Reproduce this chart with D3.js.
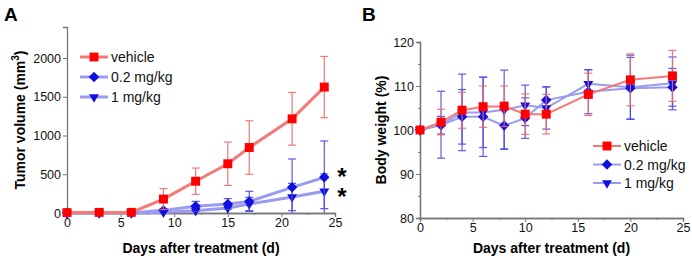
<!DOCTYPE html>
<html>
<head>
<meta charset="utf-8">
<script src="https://cdn.jsdelivr.net/npm/d3@7"></script>
<style>
  body { margin: 0; background: #fff; }
  svg { font-family: "Liberation Sans", Arial, sans-serif; }
</style>
</head>
<body>
<svg id="chart" width="692" height="262"></svg>
<script>
// panel A: tumor volume
const tumorDays = [0, 3, 6, 9, 12, 15, 17, 21, 24];
const tumorVehicle = [5, 8, 8, 180, 410, 635, 845, 1215, 1625];
const tumorVehicleErr = [5, 8, 8, 135, 170, 280, 345, 340, 395];
const tumorLow = [0, 0, 0, 34, 86, 116, 150, 331, 460];
const tumorLowErr = [0, 0, 0, 20, 64, 70, 130, 366, 469];
const tumorHigh = [0, 0, 0, 9, 30, 65, 116, 206, 280];
const tumorHighErr = [0, 0, 0, 10, 30, 65, 86, 176, 224];

// panel B: body weight
const weightDays = [0, 2, 4, 6, 8, 10, 12, 16, 20, 24];
const weightVehicle = [100, 101.8, 104.5, 105.3, 105.4, 103.6, 103.6, 108.1, 111.4, 112.3];
const weightVehicleErr = [0.3, 2.9, 4.1, 4.7, 4.6, 4.6, 4.5, 4.8, 5.9, 5.8];
const weightLow = [100, 101.1, 103.0, 103.0, 101.0, 102.7, 106.8, 108.7, 109.5, 109.7];
const weightLowErr = [0.3, 2.0, 6.2, 9.0, 5.3, 4.6, 3.0, 5.0, 7.0, 4.3];
const weightHigh = [100, 101.2, 104.0, 104.0, 104.6, 105.6, 105.0, 110.5, 109.7, 110.6];
const weightHighErr = [0.3, 7.6, 8.7, 8.0, 9.0, 4.6, 4.8, 3.2, 7.3, 6.0];

const seriesNames = ["vehicle", "0.2 mg/kg", "1 mg/kg"];
const xTicks = [0, 5, 10, 15, 20, 25];

const svg = d3.select("#chart");

const styles = [
  { line: "#f47a7a", fill: "#ff0000", err: "#f06a6a", symbol: d3.symbolSquare, size: 80, rot: 0 },
  { line: "#9a9af0", fill: "#1010e0", err: "#4a4ae8", symbol: d3.symbolDiamond2, size: 70, rot: 0 },
  { line: "#9a9af0", fill: "#1010e0", err: "#4a4ae8", symbol: d3.symbolTriangle2, size: 70, rot: 180 },
];

function drawPanel(opts) {
  const { x, y, g, series, lineWidth } = opts;

  // axes
  g.append("g")
    .attr("transform", `translate(0,${y.range()[0]})`)
    .call(d3.axisBottom(x).tickValues(xTicks).tickSize(4).tickPadding(1));
  g.append("g")
    .attr("transform", `translate(0,${y.range()[0]})`)
    .call(d3.axisBottom(x).tickValues(d3.range(2.5, 25, 5)).tickSize(2).tickFormat(""));
  g.append("g")
    .attr("transform", `translate(${x.range()[0]},0)`)
    .call(d3.axisLeft(y).tickValues(opts.yTicks).tickSize(4).tickPadding(2).tickFormat(d3.format("d")));
  if (opts.yMinor) {
    g.append("g")
      .attr("transform", `translate(${x.range()[0]},0)`)
      .call(d3.axisLeft(y).tickValues(opts.yMinor).tickSize(2).tickFormat(""));
  }
  g.selectAll(".domain").attr("stroke", "#777").attr("stroke-width", 1.3);
  g.selectAll(".tick line").attr("stroke", "#777");
  g.selectAll(".tick text").attr("font-size", 12.5).attr("fill", "#111");

  // series, last drawn on top
  series.slice().reverse().forEach((s) => {
    const st = styles[s.idx];
    const pts = s.days.map((d, i) => ({ d, v: s.values[i], e: s.err[i] }));
    const eg = g.append("g").attr("stroke", st.err).attr("stroke-width", 1.2).attr("opacity", 0.9);
    pts.filter((p) => p.e > 0).forEach((p) => {
      const lo = Math.max(p.v - p.e, y.domain()[0]);
      eg.append("line").attr("x1", x(p.d)).attr("x2", x(p.d)).attr("y1", y(p.v + p.e)).attr("y2", y(lo));
      eg.append("line").attr("x1", x(p.d) - 4).attr("x2", x(p.d) + 4).attr("y1", y(p.v + p.e)).attr("y2", y(p.v + p.e));
      if (p.v - p.e > y.domain()[0]) {
        eg.append("line").attr("x1", x(p.d) - 4).attr("x2", x(p.d) + 4).attr("y1", y(lo)).attr("y2", y(lo));
      }
    });
    g.append("path")
      .datum(pts)
      .attr("fill", "none")
      .attr("stroke", st.line)
      .attr("stroke-width", lineWidth)
      .attr("d", d3.line().x((p) => x(p.d)).y((p) => y(p.v)));
    g.append("g").selectAll("path")
      .data(pts)
      .join("path")
      .attr("transform", (p) => `translate(${x(p.d)},${y(p.v)}) rotate(${st.rot})`)
      .attr("d", d3.symbol().type(st.symbol).size(st.size))
      .attr("fill", st.fill);
  });

  // legend
  const lg = g.append("g").attr("transform", `translate(${opts.legendX},${opts.legendY})`);
  seriesNames.forEach((name, i) => {
    const st = styles[i];
    const row = lg.append("g").attr("transform", `translate(0,${i * opts.legendStep})`);
    row.append("line").attr("x1", 0).attr("x2", 28).attr("stroke", st.line).attr("stroke-width", lineWidth);
    row.append("path")
      .attr("transform", `translate(14,0) rotate(${st.rot})`)
      .attr("d", d3.symbol().type(st.symbol).size(st.size))
      .attr("fill", st.fill);
    row.append("text").attr("x", 31).attr("y", 5).attr("font-size", 14).attr("fill", "#111").text(name);
  });

  // titles
  g.append("text")
    .attr("x", d3.mean(x.range()))
    .attr("y", 253)
    .attr("text-anchor", "middle")
    .attr("font-size", 14)
    .attr("font-weight", "bold")
    .text("Days after treatment (d)");
  g.append("text")
    .attr("x", opts.panelX)
    .attr("y", 21)
    .attr("font-size", 19)
    .attr("font-weight", "bold")
    .text(opts.panel);
}

// panel A
const xA = d3.scaleLinear().domain([0, 25]).range([67, 335]);
const yA = d3.scaleLinear().domain([0, 2400]).range([213, 27]);
const gA = svg.append("g");
drawPanel({
  g: gA, x: xA, y: yA, lineWidth: 3,
  yTicks: [0, 500, 1000, 1500, 2000],
  series: [
    { idx: 0, days: tumorDays, values: tumorVehicle, err: tumorVehicleErr },
    { idx: 1, days: tumorDays, values: tumorLow, err: tumorLowErr },
    { idx: 2, days: tumorDays, values: tumorHigh, err: tumorHighErr },
  ],
  legendX: 80, legendY: 57, legendStep: 20,
  panel: "A", panelX: 4,
});
gA.append("text")
  .attr("transform", "translate(25,120) rotate(-90)")
  .attr("text-anchor", "middle")
  .attr("font-size", 14)
  .attr("font-weight", "bold")
  .html('Tumor volume (mm<tspan dy="-6" font-size="10">3</tspan><tspan dy="6">)</tspan>');
// significance marks next to the last treated points
const starTop = yA(tumorLow[tumorLow.length - 1]) + 8;
[0, 1].forEach((i) => {
  gA.append("text")
    .attr("x", 342)
    .attr("y", starTop + i * 20)
    .attr("text-anchor", "middle")
    .attr("font-size", 24)
    .attr("font-weight", "bold")
    .text("*");
});

// panel B
const xB = d3.scaleLinear().domain([0, 25]).range([420, 683]);
const yB = d3.scaleLinear().domain([80, 120]).range([218, 42]);
const gB = svg.append("g");
drawPanel({
  g: gB, x: xB, y: yB, lineWidth: 2,
  yTicks: [80, 90, 100, 110, 120],
  yMinor: [85, 95, 105, 115],
  series: [
    { idx: 0, days: weightDays, values: weightVehicle, err: weightVehicleErr },
    { idx: 1, days: weightDays, values: weightLow, err: weightLowErr },
    { idx: 2, days: weightDays, values: weightHigh, err: weightHighErr },
  ],
  legendX: 593, legendY: 146, legendStep: 18.5,
  panel: "B", panelX: 362,
});
gB.append("text")
  .attr("transform", "translate(386,130) rotate(-90)")
  .attr("text-anchor", "middle")
  .attr("font-size", 14)
  .attr("font-weight", "bold")
  .text("Body weight (%)");
</script>
</body>
</html>
